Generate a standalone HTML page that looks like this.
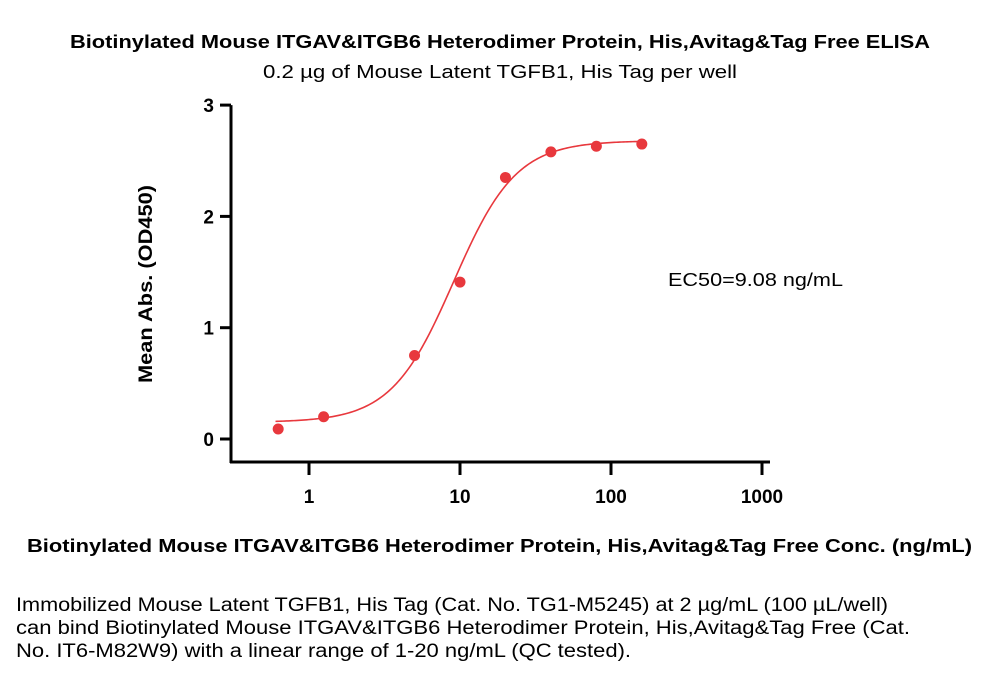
<!DOCTYPE html>
<html><head><meta charset="utf-8"><style>
body{margin:0;background:#fff;}
svg text{font-family:"Liberation Sans",sans-serif;fill:#000;}
</style></head><body>
<svg id="chart" width="1000" height="676" viewBox="0 0 1000 676">
<text x="70" y="48" textLength="860" lengthAdjust="spacingAndGlyphs" font-size="18" font-weight="bold">Biotinylated Mouse ITGAV&amp;ITGB6 Heterodimer Protein, His,Avitag&amp;Tag Free ELISA</text>
<text x="263" y="78" textLength="474" lengthAdjust="spacingAndGlyphs" font-size="18">0.2 µg of Mouse Latent TGFB1, His Tag per well</text>
<g id="axes"></g>
<g id="marks"></g>
<text x="668" y="286" textLength="175" lengthAdjust="spacingAndGlyphs" font-size="18">EC50=9.08 ng/mL</text>
<text transform="translate(152,383) rotate(-90)" textLength="198" lengthAdjust="spacingAndGlyphs" font-size="19" font-weight="bold">Mean Abs. (OD450)</text>
<text x="27" y="552" textLength="945" lengthAdjust="spacingAndGlyphs" font-size="18.5" font-weight="bold">Biotinylated Mouse ITGAV&amp;ITGB6 Heterodimer Protein, His,Avitag&amp;Tag Free Conc. (ng/mL)</text>
<g font-size="19">
<text x="16" y="611" textLength="872" lengthAdjust="spacingAndGlyphs">Immobilized Mouse Latent TGFB1, His Tag (Cat. No. TG1-M5245) at 2 µg/mL (100 µL/well)</text>
<text x="16" y="634" textLength="894" lengthAdjust="spacingAndGlyphs">can bind Biotinylated Mouse ITGAV&amp;ITGB6 Heterodimer Protein, His,Avitag&amp;Tag Free (Cat.</text>
<text x="16" y="657" textLength="615" lengthAdjust="spacingAndGlyphs">No. IT6-M82W9) with a linear range of 1-20 ng/mL (QC tested).</text>
</g>
</svg>
<script>
const concentrations=[0.625,1.25,5,10,20,40,80,160];
const absorbances=[0.09,0.2,0.75,1.41,2.35,2.58,2.63,2.65];
const xTicks=[1,10,100,1000];
const yTicks=[0,1,2,3];
const fitBottom=0.15, fitTop=2.68, fitEC50=9.08, fitHill=2.1;
const NS='http://www.w3.org/2000/svg';
const X=v=>309+151*Math.log10(v);
const Y=v=>439-111.3*v;
function mk(tag,attrs,parent){const e=document.createElementNS(NS,tag);for(const k in attrs)e.setAttribute(k,attrs[k]);parent.appendChild(e);return e;}
const axes=document.getElementById('axes'),marks=document.getElementById('marks');
let ya=mk('line',{x1:231,y1:Y(3),x2:231,y2:463,stroke:'#000','stroke-width':3},axes);


let xa=mk('line',{x1:230,y1:462,x2:770,y2:462,stroke:'#000','stroke-width':3},axes);


yTicks.forEach(t=>{
 mk('line',{x1:220,y1:Y(t),x2:231,y2:Y(t),stroke:'#000','stroke-width':3},axes);
 const l=mk('text',{x:214,y:Y(t)+7,'text-anchor':'end','font-size':19,'font-weight':'bold'},axes);l.textContent=t;
 
 
});
xTicks.forEach(t=>{
 mk('line',{x1:X(t),y1:462,x2:X(t),y2:475,stroke:'#000','stroke-width':3},axes);
 const l=mk('text',{x:X(t),y:503,'text-anchor':'middle','font-size':19,'font-weight':'bold'},axes);l.textContent=t;
 
 
});
let d='';
const lo=Math.log10(0.6),hi=Math.log10(160);
for(let i=0;i<=200;i++){const lx=lo+(hi-lo)*i/200,c=Math.pow(10,lx);
 const v=fitBottom+(fitTop-fitBottom)/(1+Math.pow(fitEC50/c,fitHill));
 d+=(i?'L':'M')+X(c).toFixed(2)+' '+Y(v).toFixed(2);}
const p=mk('path',{d:d,fill:'none',stroke:'#e8383d','stroke-width':1.6},marks);


concentrations.forEach((c,i)=>{
 const pt=mk('circle',{cx:X(c),cy:Y(absorbances[i]),r:5.5,fill:'#e8383d'},marks);
 
 
});
</script>
</body></html>
